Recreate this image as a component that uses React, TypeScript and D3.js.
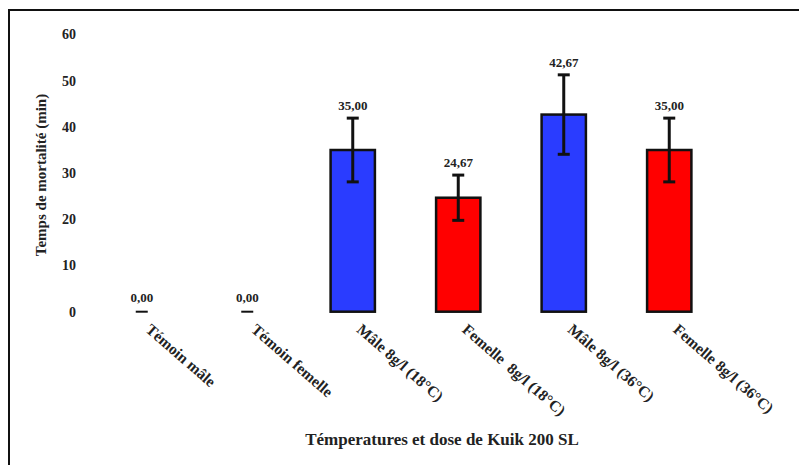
import React, { useRef, useEffect } from 'react'
import * as d3 from 'd3'

const categories = [
  'Témoin mâle',
  'Témoin femelle',
  'Mâle 8g/l (18°C)',
  'Femelle  8g/l (18°C)',
  'Mâle 8g/l (36°C)',
  'Femelle 8g/l (36°C)'
]
const values = [0, 0, 35.0, 24.67, 42.67, 35.0]
const errors = [0, 0, 6.9, 4.9, 8.6, 6.9]
const colors = ['#0000ff', '#ff0000', '#2a3cff', '#ff0000', '#2a3cff', '#ff0000']
const yTicks = [0, 10, 20, 30, 40, 50, 60]

const W = 799
const H = 465
const font = 'Liberation Serif, DejaVu Serif, serif'

export default function App() {
  const svgRef = useRef<SVGSVGElement>(null)

  useEffect(() => {
    if (!svgRef.current) return
    const svg = d3.select(svgRef.current)
    svg.selectAll('*').remove()

    // cadre
    svg.append('rect')
      .attr('x', 9).attr('y', 10)
      .attr('width', W + 20).attr('height', H + 20)
      .attr('fill', 'white')
      .attr('stroke', '#111').attr('stroke-width', 2)

    const x = d3.scaleBand()
      .domain(categories)
      .range([89, 722])
      .paddingInner(0.58)
      .paddingOuter(0.29)

    const y = d3.scaleLinear()
      .domain([0, 60])
      .range([311.7, 34.5])

    const txt = (sel: any, size: number) =>
      sel.attr('font-family', font)
        .attr('font-weight', 'bold')
        .attr('font-size', size)
        .attr('fill', '#222')
        .style('white-space', 'pre')

    // graduations Y
    svg.append('g')
      .selectAll('text')
      .data(yTicks)
      .enter()
      .append('text')
      .attr('x', 76)
      .attr('y', d => y(d))
      .attr('dy', '0.35em')
      .attr('text-anchor', 'end')
      .call(txt, 14)
      .text(d => d)

    // titre Y
    svg.append('text')
      .attr('transform', 'translate(46,175) rotate(-90)')
      .attr('text-anchor', 'middle')
      .call(txt, 15)
      .text('Temps de mortalité (min)')

    const data = categories.map((c, i) => ({ c, v: values[i], e: errors[i], col: colors[i] }))

    // barres
    svg.selectAll('.bar')
      .data(data.filter(d => d.v > 0))
      .enter()
      .append('rect')
      .attr('class', 'bar')
      .attr('x', d => x(d.c)!)
      .attr('y', d => y(d.v))
      .attr('width', x.bandwidth())
      .attr('height', d => y(0) - y(d.v))
      .attr('fill', d => d.col)
      .attr('stroke', '#111')
      .attr('stroke-width', 2.5)

    // barres nulles
    svg.selectAll('.zero')
      .data(data.filter(d => d.v === 0))
      .enter()
      .append('line')
      .attr('x1', d => x(d.c)! + x.bandwidth() / 2 - 6)
      .attr('x2', d => x(d.c)! + x.bandwidth() / 2 + 6)
      .attr('y1', y(0))
      .attr('y2', y(0))
      .attr('stroke', '#111')
      .attr('stroke-width', 2)

    // barres d'erreur
    const eb = svg.append('g')
    data.filter(d => d.e > 0).forEach(d => {
      const cx = x(d.c)! + x.bandwidth() / 2
      eb.append('line')
        .attr('x1', cx).attr('x2', cx)
        .attr('y1', y(d.v + d.e)).attr('y2', y(d.v - d.e))
        .attr('stroke', '#111').attr('stroke-width', 3)
      ;[d.v + d.e, d.v - d.e].forEach(v => {
        eb.append('line')
          .attr('x1', cx - 6).attr('x2', cx + 6)
          .attr('y1', y(v)).attr('y2', y(v))
          .attr('stroke', '#111').attr('stroke-width', 3)
      })
    })

    // valeurs
    svg.selectAll('.lbl')
      .data(data)
      .enter()
      .append('text')
      .attr('x', d => x(d.c)! + x.bandwidth() / 2)
      .attr('y', d => y(d.v + d.e) - (d.e > 0 ? 8 : 10))
      .attr('text-anchor', 'middle')
      .call(txt, 13)
      .text(d => d3.format('.2f')(d.v).replace('.', ','))

    // étiquettes X
    svg.selectAll('.xl')
      .data(categories)
      .enter()
      .append('text')
      .attr('transform', d => `translate(${x(d)! + x.bandwidth() / 2 + 3},${331}) rotate(41)`)
      .attr('text-anchor', 'start')
      .call(txt, 15.5)
      .text(d => d)

    // titre X
    svg.append('text')
      .attr('x', 442)
      .attr('y', 445)
      .attr('text-anchor', 'middle')
      .call(txt, 17)
      .text('Témperatures et dose de Kuik 200 SL')
  }, [])

  return (
    <svg
      ref={svgRef}
      width={W}
      height={H}
      style={{ position: 'absolute', left: 0, top: 0, background: 'white' }}
    />
  )
}
